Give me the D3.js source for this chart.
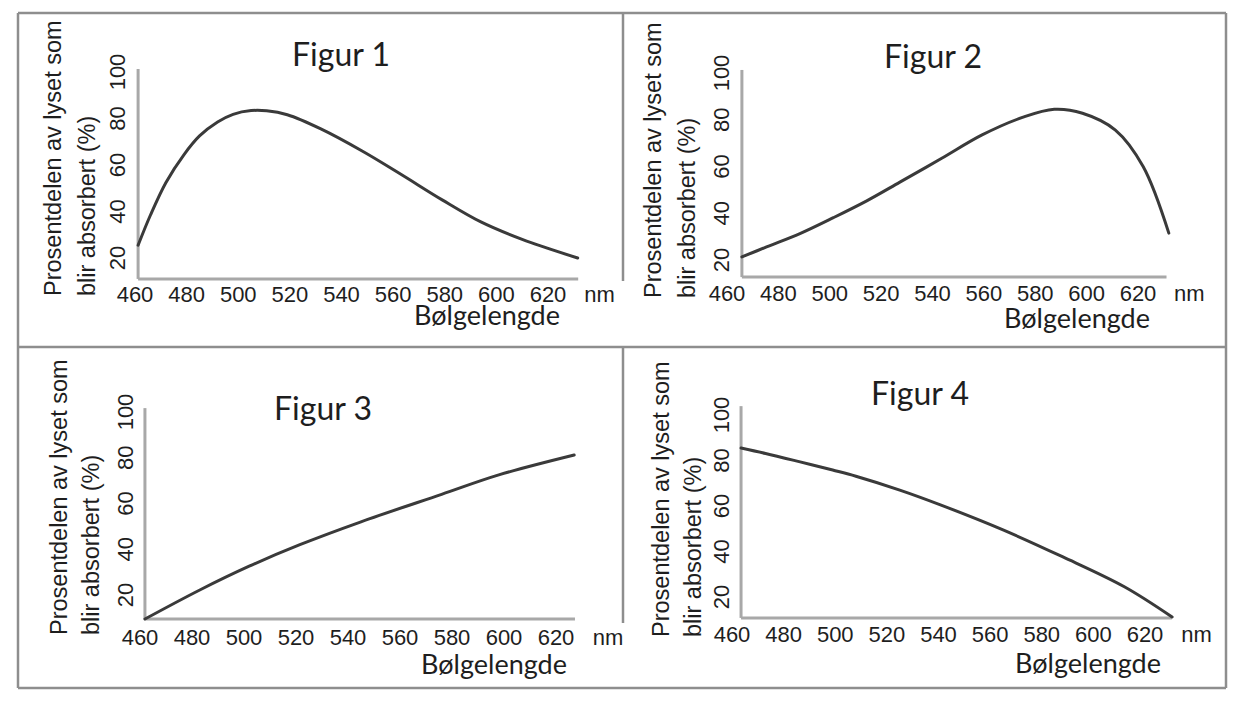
<!DOCTYPE html>
<html>
<head>
<meta charset="utf-8">
<script src="https://cdn.jsdelivr.net/npm/d3@7"></script>
<style>
  body { margin: 0; background: #fff; }
  svg { display: block; }
</style>
</head>
<body>
<svg id="chart" width="1251" height="714"></svg>
<script>
// tick labels and texts
var xTicks = [460, 480, 500, 520, 540, 560, 580, 600, 620];
var yTicks = [20, 40, 60, 80, 100];
var figTitles = ["Figur 1", "Figur 2", "Figur 3", "Figur 4"];
var yTitleLines = ["Prosentdelen av lyset som", "blir absorbert (%)"];
var xTitle = "Bølgelengde";
var xUnit = "nm";

// curves: wavelength (nm) and percent absorbed
var fig1Nm  = [461.2, 466, 472, 479, 485, 492, 498, 505, 511, 519, 532, 548, 563, 579, 594, 610, 631.5];
var fig1Pct = [25.5, 38.5, 52.5, 64.5, 72.5, 78.5, 81.8, 83.4, 83.3, 81.6, 75.5, 66, 56, 45, 35.5, 28, 20];

var fig2Nm  = [465.8, 475.4, 488.4, 501.4, 514.4, 527.3, 543.6, 559.3, 575, 587.4, 598.4, 611.2, 622, 632];
var fig2Pct = [21.3, 25.6, 31.3, 38.1, 45.3, 53.3, 63.5, 73.5, 81, 84.5, 82.8, 75.6, 60, 31.5];

var fig3Nm  = [461.9, 483, 502, 521.5, 545, 576, 598, 627];
var fig3Pct = [9.5, 22.2, 32.6, 42, 52, 64, 72.5, 81.2];

var fig4Nm  = [463.5, 473, 486, 499, 508, 525, 541, 565, 588, 612, 630.5];
var fig4Pct = [85.5, 83.1, 79.5, 75.8, 73.1, 67, 60.4, 49.5, 37.7, 24.5, 11.2];

var figNm = [fig1Nm, fig2Nm, fig3Nm, fig4Nm];
var figPct = [fig1Pct, fig2Pct, fig3Pct, fig4Pct];

// where each small chart sits (pixels for 460/620 nm and 20/100 %)
var panels = [
  {x: [135, 548], y: [258, 72], axNm: [461.2, 631.7], axPct: [11, 101.3], tickY: 302, yTickX: 117,
   titleX: 341, titleY: 66, xtX: 487, xtY: 325, ytX: [61, 95], ytY: 296},
  {x: [727, 1138], y: [260, 73], axNm: [465.8, 631.1], axPct: [12.7, 101.3], tickY: 301, yTickX: 721,
   titleX: 933, titleY: 68, xtX: 1077, xtY: 328, ytX: [661, 695], ytY: 298},
  {x: [140, 556], y: [595, 412], axNm: [461.9, 627.3], axPct: [9.5, 101.7], tickY: 645, yTickX: 125,
   titleX: 323, titleY: 420, xtX: 494, xtY: 674, ytX: [67, 99], ytY: 635},
  {x: [732, 1145], y: [597, 415], axNm: [463.5, 630.4], axPct: [10.8, 103.9], tickY: 642, yTickX: 721,
   titleX: 920, titleY: 405, xtX: 1088, xtY: 673, ytX: [669, 701], ytY: 637}
];

var svg = d3.select("#chart");
var textCol = "#1e1e1e";
var labelFont = "'Liberation Sans', Arial, sans-serif";
var titleFont = "Lato, 'Open Sans', sans-serif";

// frame around the four figures
var frame = svg.append("g").attr("stroke", "#8e8e8e").attr("stroke-width", 2.5).attr("fill", "none");
frame.append("line").attr("x1", 18).attr("y1", 13).attr("x2", 1226).attr("y2", 13);
frame.append("line").attr("x1", 18).attr("y1", 13).attr("x2", 18).attr("y2", 688);
frame.append("line").attr("x1", 1226).attr("y1", 13).attr("x2", 1226).attr("y2", 688);
frame.append("line").attr("x1", 18).attr("y1", 347).attr("x2", 1226).attr("y2", 347);
frame.append("line").attr("x1", 18).attr("y1", 688).attr("x2", 1226).attr("y2", 688);
frame.append("line").attr("x1", 623).attr("y1", 13).attr("x2", 623).attr("y2", 281);
frame.append("line").attr("x1", 623).attr("y1", 347).attr("x2", 623).attr("y2", 623);

panels.forEach(function(p, i){
    var x = d3.scaleLinear().domain([460, 620]).range(p.x);
    var y = d3.scaleLinear().domain([20, 100]).range(p.y);
    var g = svg.append("g");

    // axes (plain lines, no tick marks)
    g.append("line")
        .attr("x1", x(p.axNm[0])).attr("x2", x(p.axNm[0]))
        .attr("y1", y(p.axPct[0])).attr("y2", y(p.axPct[1]))
        .attr("stroke", "#a8a8a8").attr("stroke-width", 3);
    g.append("line")
        .attr("x1", x(p.axNm[0])).attr("x2", x(p.axNm[1]))
        .attr("y1", y(p.axPct[0])).attr("y2", y(p.axPct[0]))
        .attr("stroke", "#a8a8a8").attr("stroke-width", 3);

    // curve
    var pts = d3.zip(figNm[i], figPct[i]);
    var line = d3.line()
        .x(function(d){ return x(d[0]); })
        .y(function(d){ return y(d[1]); })
        .curve(d3.curveCatmullRom.alpha(0.5));
    g.append("path")
        .datum(pts)
        .attr("d", line)
        .attr("fill", "none")
        .attr("stroke", "#3a3a3a")
        .attr("stroke-width", 3)
        .attr("stroke-linecap", "round");

    // x tick labels
    g.selectAll(".xt").data(xTicks).enter().append("text")
        .attr("x", function(d){ return x(d); })
        .attr("y", p.tickY)
        .attr("text-anchor", "middle")
        .attr("font-family", labelFont).attr("font-size", 22).attr("fill", textCol)
        .text(function(d){ return d; });
    g.append("text")
        .attr("x", x(640)).attr("y", p.tickY)
        .attr("text-anchor", "middle")
        .attr("font-family", labelFont).attr("font-size", 22).attr("fill", textCol)
        .text(xUnit);

    // y tick labels, rotated
    g.selectAll(".yt").data(yTicks).enter().append("text")
        .attr("transform", function(d){ return "translate(" + p.yTickX + "," + y(d) + ") rotate(-90)"; })
        .attr("dy", "0.35em")
        .attr("text-anchor", "middle")
        .attr("font-family", labelFont).attr("font-size", 22).attr("fill", textCol)
        .text(function(d){ return d; });

    // y title (two lines)
    yTitleLines.forEach(function(t, k){
        g.append("text")
            .attr("transform", "translate(" + p.ytX[k] + "," + p.ytY + ") rotate(-90)")
            .attr("text-anchor", "start")
            .attr("font-family", labelFont).attr("font-size", 23.5).attr("fill", textCol)
            .text(t);
    });

    // x title
    g.append("text")
        .attr("x", p.xtX).attr("y", p.xtY)
        .attr("text-anchor", "middle")
        .attr("font-family", titleFont).attr("font-size", 27).attr("fill", textCol)
        .text(xTitle);

    // figure title
    g.append("text")
        .attr("x", p.titleX).attr("y", p.titleY)
        .attr("text-anchor", "middle")
        .attr("font-family", titleFont).attr("font-size", 32).attr("fill", textCol)
        .text(figTitles[i]);
});
</script>
</body>
</html>
